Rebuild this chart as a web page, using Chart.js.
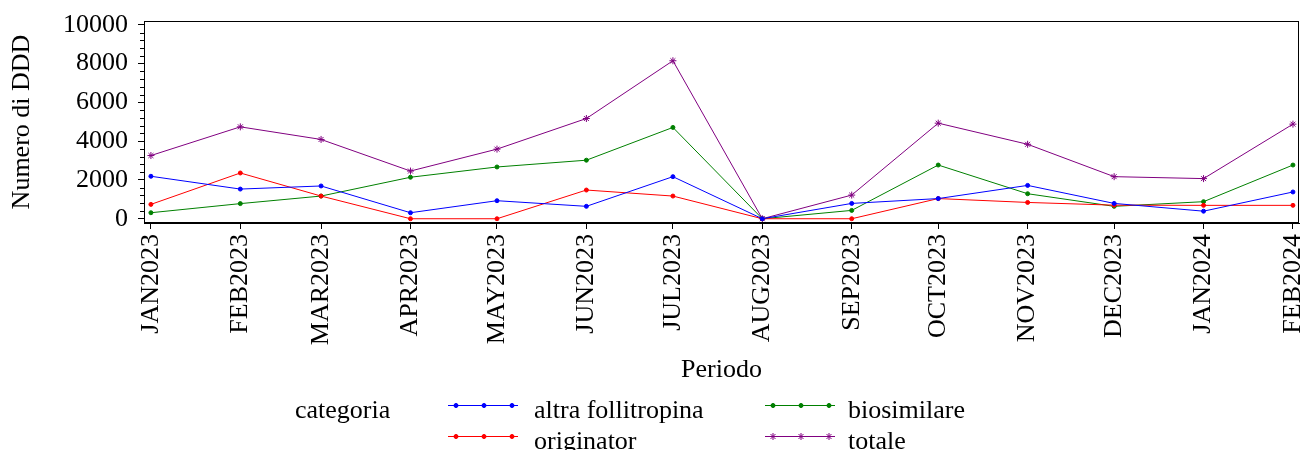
<!DOCTYPE html>
<html>
<head>
<meta charset="utf-8">
<script src="https://cdn.jsdelivr.net/npm/chart.js@4.4.1/dist/chart.umd.min.js"></script>
<style>
  html, body { margin: 0; padding: 0; background: #fff; }
  #wrap { width: 1304px; height: 450px; }
</style>
</head>
<body>
<div id="wrap"><canvas id="myLineChart" width="1304" height="450"></canvas></div>
<script>
// values
var months = ['JAN2023', 'FEB2023', 'MAR2023', 'APR2023', 'MAY2023', 'JUN2023', 'JUL2023',
              'AUG2023', 'SEP2023', 'OCT2023', 'NOV2023', 'DEC2023', 'JAN2024', 'FEB2024'];
var altraFollitropina = [2190, 1530, 1690, 310, 930, 640, 2170, 0, 790, 1040, 1720, 790, 390, 1380];
var originator = [740, 2360, 1170, 0, 0, 1480, 1170, 0, 0, 1040, 840, 700, 690, 690];
var biosimilare = [310, 780, 1170, 2140, 2670, 3020, 4710, 0, 430, 2770, 1290, 640, 880, 2770];
var totale = [3260, 4740, 4090, 2460, 3590, 5170, 8150, 0, 1220, 4930, 3840, 2170, 2070, 4880];
var yTicks = [0, 2000, 4000, 6000, 8000, 10000];
var yMinorStep = 400;

var fontFamily = '"Liberation Serif", "Times New Roman", serif';
Chart.defaults.font.family = fontFamily;
Chart.defaults.font.size = 26;
Chart.defaults.color = '#000';

// the x axis is a time axis: position each month by its day offset
var monthNames = ['JAN', 'FEB', 'MAR', 'APR', 'MAY', 'JUN', 'JUL', 'AUG', 'SEP', 'OCT', 'NOV', 'DEC'];
function dayOffset(label) {
  var m = monthNames.indexOf(label.slice(0, 3));
  var y = parseInt(label.slice(3), 10);
  return (Date.UTC(y, m, 1) - Date.UTC(2023, 0, 1)) / 86400000;
}
var xDays = months.map(dayOffset);

function points(values) {
  return values.map(function (v, i) { return { x: xDays[i], y: v }; });
}

function series(label, values, color, style, radius) {
  return {
    label: label,
    data: points(values),
    borderColor: color,
    backgroundColor: color,
    borderWidth: 1,
    pointStyle: style,
    pointRadius: radius,
    pointBorderWidth: 1,
    tension: 0
  };
}

var frame = {
  id: 'frame',
  afterDraw: function (chart) {
    var ctx = chart.ctx, a = chart.chartArea;
    ctx.save();
    ctx.strokeStyle = '#000';
    ctx.lineWidth = 1;
    ctx.strokeRect(Math.round(a.left) + 0.5, Math.round(a.top) + 0.5,
                   Math.round(a.right - a.left) - 1, Math.round(a.bottom - a.top) - 1);
    // minor ticks on the y axis
    var ys = chart.scales.y;
    ctx.beginPath();
    for (var v = 0; v <= yTicks[yTicks.length - 1]; v += yMinorStep) {
      if (v % 2000 === 0) continue;
      var py = Math.round(ys.getPixelForValue(v)) + 0.5;
      ctx.moveTo(a.left - 4, py);
      ctx.lineTo(a.left, py);
    }
    ctx.stroke();
    ctx.restore();
  }
};

// legend drawn below the axis title, laid out like the original
var legendBox = {
  id: 'legendBox',
  afterDraw: function (chart) {
    var ctx = chart.ctx;
    var cols = [{ x: 448, tx: 534 }, { x: 765, tx: 848 }];
    var rows = [{ line: 405, base: 418 }, { line: 436, base: 449 }];
    var order = [0, 2, 1, 3];
    ctx.save();
    ctx.font = '26px ' + fontFamily;
    ctx.fillStyle = '#000';
    ctx.textBaseline = 'alphabetic';
    ctx.fillText('categoria', 295, 418);
    order.forEach(function (di, k) {
      var ds = chart.data.datasets[di];
      var c = cols[k % 2], r = rows[Math.floor(k / 2)];
      ctx.strokeStyle = ds.borderColor;
      ctx.lineWidth = 1;
      ctx.beginPath();
      ctx.moveTo(c.x, r.line + 0.5);
      ctx.lineTo(c.x + 70, r.line + 0.5);
      ctx.stroke();
      [8, 36, 64].forEach(function (dx) {
        Chart.helpers.drawPoint(ctx, {
          pointStyle: ds.pointStyle, radius: ds.pointRadius, borderWidth: 1, rotation: 0
        }, c.x + dx, r.line + 0.5);
        if (ds.pointStyle === 'circle') { ctx.fillStyle = ds.borderColor; ctx.fill(); }
      });
      ctx.fillStyle = '#000';
      ctx.fillText(ds.label, c.tx, r.base);
    });
    ctx.restore();
  }
};

var ctx = document.getElementById('myLineChart');
var myLineChart = new Chart(ctx, {
  type: 'line',
  data: {
    datasets: [
      series('altra follitropina', altraFollitropina, '#0000FF', 'circle', 2),
      series('originator', originator, '#FF0000', 'circle', 2),
      series('biosimilare', biosimilare, '#008000', 'circle', 2),
      series('totale', totale, '#800080', 'star', 3.5)
    ]
  },
  options: {
    responsive: false,
    animation: false,
    devicePixelRatio: 1,
    layout: { padding: { top: 21, right: 5, bottom: 64.4, left: 0 } },
    scales: {
      x: {
        type: 'linear',
        min: -2.4,
        max: 398.1,
        afterBuildTicks: function (s) {
          s.ticks = xDays.map(function (d) { return { value: d }; });
        },
        afterFit: function (s) {
          s.height = 162.6;
          s.paddingLeft = 0;
          s.paddingRight = 0;
        },
        ticks: {
          autoSkip: false,
          minRotation: 90,
          maxRotation: 90,
          padding: 5,
          color: '#000',
          font: { size: 26 },
          callback: function (v, i) { return months[i]; }
        },
        grid: { drawOnChartArea: false, drawTicks: true, tickLength: 6, color: '#000' },
        border: { display: true, color: '#000', width: 1 },
        title: { display: true, text: 'Periodo', color: '#000', font: { size: 26 }, padding: 0 }
      },
      y: {
        min: -220,
        max: 10200,
        afterBuildTicks: function (s) {
          s.ticks = yTicks.map(function (v) { return { value: v }; });
        },
        afterFit: function (s) {
          s.width = 144;
          s.paddingTop = 0;
          s.paddingBottom = 0;
        },
        ticks: {
          padding: 10,
          color: '#000',
          font: { size: 26 },
          callback: function (v) { return String(v); }
        },
        grid: { drawOnChartArea: false, drawTicks: true, tickLength: 6, color: '#000' },
        border: { display: true, color: '#000', width: 1 },
        title: { display: true, text: 'Numero di DDD', color: '#000', font: { size: 26 }, padding: { top: 7, bottom: 0 } }
      }
    },
    plugins: {
      legend: { display: false },
      tooltip: { enabled: false }
    }
  },
  plugins: [frame, legendBox]
});
</script>
</body>
</html>
